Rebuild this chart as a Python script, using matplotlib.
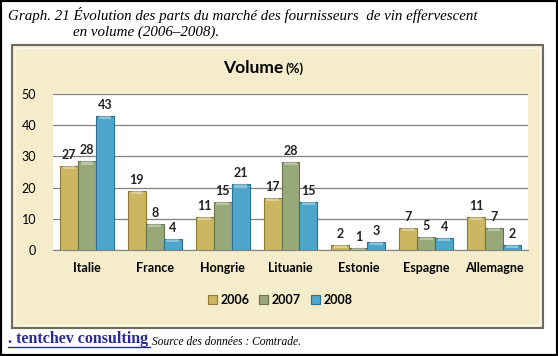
import matplotlib
matplotlib.use("Agg")
import matplotlib.pyplot as plt
from matplotlib.patches import Rectangle
import numpy as np

# Data
countries = ["Italie", "France", "Hongrie", "Lituanie", "Estonie", "Espagne", "Allemagne"]
years = ["2006", "2007", "2008"]
share_2006 = [27.0, 19.0, 10.6, 16.6, 1.5, 7.0, 10.6]
share_2007 = [28.4, 8.3, 15.3, 28.2, 0.6, 4.3, 7.0]
share_2008 = [43.0, 3.5, 21.0, 15.5, 2.6, 3.8, 1.6]
labels_2006 = ["27", "19", "11", "17", "2", "7", "11"]
labels_2007 = ["28", "8", "15", "28", "1", "5", "7"]
labels_2008 = ["43", "4", "21", "15", "3", "4", "2"]
yticks = [0, 10, 20, 30, 40, 50]

COLORS = ["#CDB661", "#98A878", "#4EA6CB"]
EDGES = ["#8E7A34", "#66744E", "#2C6F8E"]

plt.rcParams["font.family"] = ["Lato", "DejaVu Sans"]

W, H = 558, 356
fig = plt.figure(figsize=(W / 100, H / 100), dpi=100)
fig.patch.set_facecolor("white")


def fx(px):
    return px / W


def fy(py):
    return 1 - py / H


# outer black border
fig.patches.append(Rectangle((0, 0), 1, 1, transform=fig.transFigure,
                             fill=False, edgecolor="black", linewidth=3, zorder=-2))

# beige chart frame
fig.patches.append(Rectangle((fx(12), fy(328)), fx(543) - fx(12), fy(45) - fy(328),
                             transform=fig.transFigure, facecolor="#F4ECCB",
                             edgecolor="#6E6A5E", linewidth=1.5, zorder=-2))
fig.patches.append(Rectangle((fx(15), fy(325)), fx(540) - fx(15), fy(48) - fy(325),
                             transform=fig.transFigure, facecolor="none",
                             edgecolor="#FBF7E6", linewidth=1.0, zorder=-1))

# title
fig.text(fx(8), fy(15), "Graph. 21 Évolution des parts du marché des fournisseurs  de vin effervescent",
         fontsize=10.8, family="Liberation Serif", style="italic", va="center", ha="left")
fig.text(fx(73), fy(32), "en volume (2006\u20132008).",
         fontsize=10.8, family="Liberation Serif", style="italic", va="center", ha="left")

# chart title
fig.text(fx(283), fy(68), "Volume", fontsize=12.5, fontweight="bold", ha="right", va="center")
fig.text(fx(286), fy(69), "(%)", fontsize=9.5, fontweight="bold", ha="left", va="center")

ax = fig.add_axes([fx(53), fy(250), fx(528) - fx(53), fy(94) - fy(250)])
ax.set_facecolor("white")

x = np.arange(len(countries))
width = 0.265
series = [share_2006, share_2007, share_2008]
labels = [labels_2006, labels_2007, labels_2008]
for i, (vals, labs) in enumerate(zip(series, labels)):
    offs = (i - 1) * width
    ax.bar(x + offs, vals, width, color=COLORS[i], edgecolor=EDGES[i],
           linewidth=0.8, label=years[i], zorder=3)
    # light highlight on top of each bar for the bevel look
    ax.bar(x + offs, [min(v, 1.0) for v in vals], width * 0.7,
           bottom=[v - min(v, 1.0) for v in vals], color="white", alpha=0.35,
           linewidth=0, zorder=4)
    for xi, v, lab in zip(x + offs, vals, labs):
        ax.text(xi, v + 1.6, lab, ha="center", va="bottom", fontsize=9,
                fontweight="bold", color="#222222", zorder=5)

ax.set_xlim(-0.5, len(countries) - 0.5)
ax.set_ylim(0, 50)
ax.set_yticks(yticks)
ax.set_yticklabels([str(t) for t in yticks], fontsize=9)
ax.set_xticks(x)
ax.set_xticklabels(countries, fontsize=9, fontweight="bold")
ax.tick_params(axis="both", length=0, pad=9)
ax.tick_params(axis="y", pad=12)
ax.grid(axis="y", color="#808080", linewidth=0.9, zorder=1)
for s in ["top", "right", "left"]:
    ax.spines[s].set_visible(False)
ax.spines["bottom"].set_color("#808080")

fig.legend(loc="center", bbox_to_anchor=(fx(280), fy(300)), ncol=3, frameon=False,
           prop={"weight": "bold", "size": 9}, handlelength=0.7,
           handleheight=0.7, handletextpad=0.3, columnspacing=0.8)

# footer
fig.text(fx(8), fy(339), ". tentchev consulting", fontsize=11.5, family="Liberation Serif",
         fontweight="bold", color="#2A2AA0", va="center", ha="left")
fig.add_artist(plt.Line2D([fx(8), fx(150)], [fy(347), fy(347)], color="#2A2AA0",
                          linewidth=1, transform=fig.transFigure))
fig.text(fx(152), fy(342), "Source des données : Comtrade.", fontsize=8.3,
         family="Liberation Serif", style="italic", va="center", ha="left")

fig.savefig("out.png", dpi=100)
